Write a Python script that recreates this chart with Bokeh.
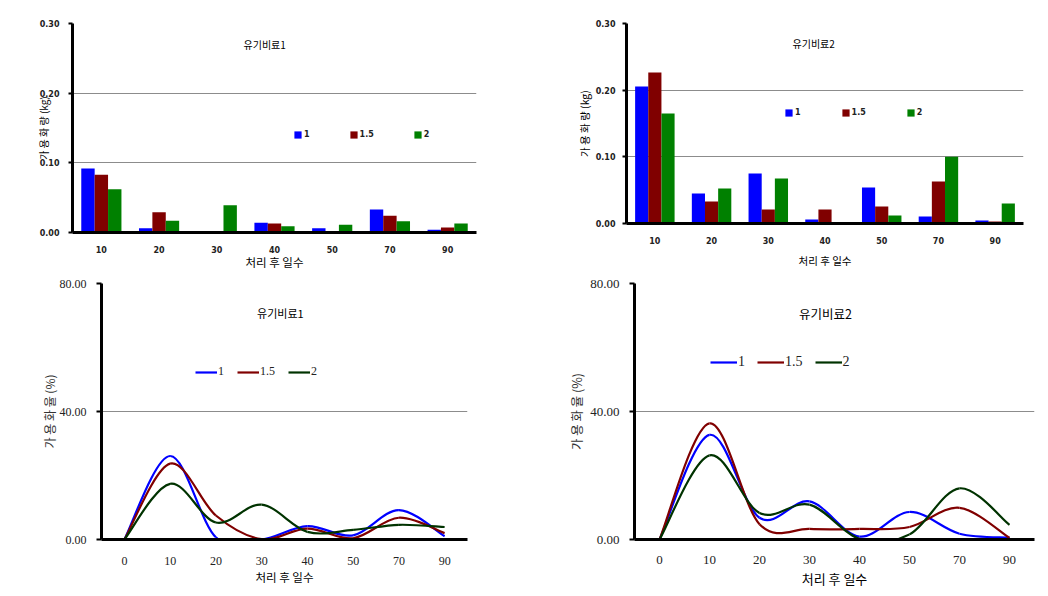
import math
from bokeh.plotting import figure
from bokeh.layouts import column, row
from bokeh.models import (ColumnDataSource, FactorRange, Range1d, FixedTicker,
                          PrintfTickFormatter, Label, Legend, LegendItem)
from bokeh.transform import dodge
from bokeh.embed import file_html
from bokeh.resources import INLINE

# ---------------- data ----------------
BAR_DAYS = ["10", "20", "30", "40", "50", "70", "90"]
LINE_DAYS = ["0", "10", "20", "30", "40", "50", "70", "90"]
SERIES = ["1", "1.5", "2"]

# 유기비료1, 가용화량 (kg)
kg1_s1 = [0.092, 0.006, 0.000, 0.014, 0.006, 0.033, 0.004]
kg1_s15 = [0.083, 0.029, 0.000, 0.013, 0.000, 0.024, 0.007]
kg1_s2 = [0.062, 0.017, 0.039, 0.009, 0.011, 0.016, 0.013]
# 유기비료2, 가용화량 (kg)
kg2_s1 = [0.2055, 0.045, 0.075, 0.006, 0.054, 0.0105, 0.0045]
kg2_s15 = [0.2265, 0.033, 0.021, 0.021, 0.0255, 0.063, 0.003]
kg2_s2 = [0.165, 0.0525, 0.0675, 0.000, 0.012, 0.100, 0.030]

# 유기비료1, 가용화율 (%)
pct1_s1 = [0, 26.1, 0.7, 0.0, 4.2, 1.3, 9.2, 1.0]
pct1_s15 = [0, 23.7, 7.5, 0.1, 3.4, 0.4, 6.8, 2.0]
pct1_s2 = [0, 17.4, 5.3, 10.9, 2.4, 3.0, 4.6, 3.9]
# 유기비료2, 가용화율 (%)
pct2_s1 = [0, 32.7, 6.8, 11.9, 0.9, 8.6, 1.8, 0.6]
pct2_s15 = [0, 36.3, 4.8, 3.3, 3.3, 3.9, 9.9, 0.5]
pct2_s2 = [0, 26.3, 8.3, 10.9, 0.2, 1.6, 16.0, 4.6]

BAR_COLORS = ["#0000FF", "#800000", "#008000"]
LINE_COLORS = ["#0000FF", "#800000", "#003300"]

KFONT = "Noto Sans CJK KR"
SANS = "DejaVu Sans"
SERIF = "Liberation Serif"


def base_fig(fw, fh, bl, br, bt, bb, x_range, y_range):
    p = figure(width=fw + bl + br, height=fh + bt + bb,
               frame_width=fw, frame_height=fh,
               min_border_left=bl, min_border_right=br,
               min_border_top=bt, min_border_bottom=bb,
               x_range=x_range, y_range=y_range,
               output_backend="svg", toolbar_location=None)
    p.outline_line_color = None
    p.background_fill_color = "white"
    p.border_fill_color = "white"
    p.xgrid.visible = False
    p.ygrid.grid_line_color = "#8c8c8c"
    p.ygrid.grid_line_width = 1
    p.xaxis.axis_line_width = 3
    p.xaxis.axis_line_color = "black"
    p.xaxis.major_tick_line_color = None
    p.xaxis.minor_tick_line_color = None
    p.yaxis.axis_line_width = 3
    p.yaxis.axis_line_color = "black"
    p.yaxis.major_tick_line_width = 2
    p.yaxis.major_tick_in = 0
    p.yaxis.minor_tick_line_color = None
    p.yaxis.formatter = PrintfTickFormatter(format="%.2f")
    for ax in (p.xaxis, p.yaxis):
        ax.axis_label_text_font = KFONT
        ax.axis_label_text_font_style = "normal"
        ax.axis_label_text_color = "black"
    return p


def bar_chart(kgs, title, cfg):
    p = base_fig(cfg["fw"], cfg["fh"], cfg["bl"], cfg["br"], cfg["bt"], cfg["bb"],
                 FactorRange(*BAR_DAYS), Range1d(0, 0.30))
    ticks = [0.0, 0.10, 0.20, 0.30]
    p.yaxis.ticker = FixedTicker(ticks=ticks)
    p.ygrid.ticker = FixedTicker(ticks=ticks[1:])
    for ax in (p.xaxis, p.yaxis):
        ax.major_label_text_font = SANS
        ax.major_label_text_font_size = "8px"
        ax.major_label_text_font_style = "bold"
        ax.major_label_text_color = "#222222"
    p.yaxis.major_tick_out = 4
    p.yaxis.major_label_standoff = cfg["ystand"]
    p.xaxis.major_label_standoff = cfg["xstand"]
    p.xaxis.axis_label = "처리 후 일수"
    p.xaxis.axis_label_text_font_size = cfg["xtitle_size"]
    p.xaxis.axis_label_standoff = cfg["xtitle_stand"]
    p.yaxis.axis_label = "가 용 화 량 (kg)"
    p.yaxis.axis_label_text_font_size = cfg["ylab_size"]
    p.yaxis.axis_label_standoff = cfg["ylab_stand"]

    src = ColumnDataSource(dict(day=BAR_DAYS, s1=kgs[0], s15=kgs[1], s2=kgs[2]))
    offs = [-0.232, 0.0, 0.232]
    items = []
    for col, off, color, name in zip(["s1", "s15", "s2"], offs, BAR_COLORS, SERIES):
        r = p.vbar(x=dodge("day", off, range=p.x_range), top=col, width=0.232,
                   source=src, fill_color=color, line_color=None)
        items.append(LegendItem(label=name, renderers=[r]))
    leg = Legend(items=items, orientation="horizontal", location=cfg["leg"],
                 glyph_width=9, glyph_height=9, label_standoff=2, spacing=cfg["spacing"],
                 padding=0, margin=0, border_line_color=None, background_fill_alpha=0,
                 label_width=0, label_height=0,
                 label_text_font=SANS, label_text_font_size="8px",
                 label_text_font_style="bold", label_text_color="#222222")
    p.add_layout(leg)
    p.add_layout(Label(x=cfg["title_xy"][0], y=cfg["title_xy"][1], text=title,
                       text_font=KFONT, text_font_size=cfg["title_size"],
                       text_align="center", text_baseline="middle", text_color="black"))
    return p


def bezier_data(vals):
    n = len(vals)
    xs = list(range(n))
    d = dict(x0=[], y0=[], x1=[], y1=[], cx0=[], cy0=[], cx1=[], cy1=[])
    for i in range(n - 1):
        pm = max(i - 1, 0)
        pp = min(i + 2, n - 1)
        d["x0"].append(xs[i]); d["y0"].append(vals[i])
        d["x1"].append(xs[i + 1]); d["y1"].append(vals[i + 1])
        d["cx0"].append(xs[i] + (xs[i + 1] - xs[pm]) / 6.0)
        d["cy0"].append(vals[i] + (vals[i + 1] - vals[pm]) / 6.0)
        d["cx1"].append(xs[i + 1] - (xs[pp] - xs[i]) / 6.0)
        d["cy1"].append(vals[i + 1] - (vals[pp] - vals[i]) / 6.0)
    return d


def line_chart(pcts, title, cfg):
    p = base_fig(cfg["fw"], cfg["fh"], cfg["bl"], cfg["br"], cfg["bt"], cfg["bb"],
                 Range1d(-0.5, len(LINE_DAYS) - 0.5), Range1d(0, 80))
    ticks = [0, 40, 80]
    p.yaxis.ticker = FixedTicker(ticks=ticks)
    p.ygrid.ticker = FixedTicker(ticks=ticks[1:])
    p.xaxis.ticker = FixedTicker(ticks=list(range(len(LINE_DAYS))))
    p.xaxis.major_label_overrides = {i: d for i, d in enumerate(LINE_DAYS)}
    for ax in (p.xaxis, p.yaxis):
        ax.major_label_text_font = SERIF
        ax.major_label_text_font_size = cfg["tick_size"]
        ax.major_label_text_color = "#222222"
    p.yaxis.major_tick_out = 5
    p.yaxis.major_label_standoff = cfg["ystand"]
    p.xaxis.major_label_standoff = cfg["xstand"]
    p.xaxis.axis_label = "처리 후 일수"
    p.xaxis.axis_label_text_font_size = cfg["xtitle_size"]
    p.xaxis.axis_label_standoff = cfg["xtitle_stand"]
    p.yaxis.axis_label = "가 용 화 율 (%)"
    p.yaxis.axis_label_text_font_size = cfg["ylab_size"]
    p.yaxis.axis_label_standoff = cfg["ylab_stand"]
    p.yaxis.axis_label_text_color = "#333333"

    items = []
    for vals, color, name in zip(pcts, LINE_COLORS, SERIES):
        src = ColumnDataSource(bezier_data(vals))
        r = p.bezier(x0="x0", y0="y0", x1="x1", y1="y1", cx0="cx0", cy0="cy0",
                     cx1="cx1", cy1="cy1", source=src, line_color=color, line_width=2.2)
        items.append(LegendItem(label=name, renderers=[r]))
    leg = Legend(items=items, orientation="horizontal", location=cfg["leg"],
                 glyph_width=cfg["gw"], glyph_height=10, label_standoff=1,
                 spacing=cfg["spacing"], padding=0, margin=0, border_line_color=None,
                 background_fill_alpha=0, label_width=0, label_height=0,
                 label_text_font=SERIF, label_text_font_size=cfg["leg_size"],
                 label_text_color="#222222")
    p.add_layout(leg)
    p.add_layout(Label(x=cfg["title_xy"][0], y=cfg["title_xy"][1], text=title,
                       text_font=KFONT, text_font_size=cfg["title_size"],
                       text_align="center", text_baseline="middle", text_color="black"))
    return p


# Row 1 shares top/bottom borders (23 / 45); row 2 shares (6 / 52).
p1 = bar_chart([kg1_s1, kg1_s15, kg1_s2], "유기비료1",
               dict(fw=404, fh=209, bl=72, br=44, bt=23, bb=45, ystand=9, xstand=7,
                    xtitle_size="11.5px", xtitle_stand=-2, leg=(221, 93), spacing=39,
                    title_xy=(3.33, 0.270), title_size="10px",
                    ylab_size="10px", ylab_stand=-14))
p2 = bar_chart([kg2_s1, kg2_s15, kg2_s2], "유기비료2",
               dict(fw=397, fh=200, bl=106, br=17, bt=23, bb=45, ystand=7, xstand=7,
                    xtitle_size="10.5px", xtitle_stand=6, leg=(158, 106), spacing=40,
                    title_xy=(3.30, 0.2696), title_size="10px",
                    ylab_size="10.5px", ylab_stand=1))
p3 = line_chart([pct1_s1, pct1_s15, pct1_s2], "유기비료1",
                dict(fw=366, fh=256, bl=101, br=53, bt=6, bb=52, ystand=10, xstand=11,
                     tick_size="12px", xtitle_size="11.5px", xtitle_stand=1,
                     leg=(94, 160), gw=22, spacing=13, leg_size="12px",
                     title_xy=(3.41, 70.9), title_size="11px",
                     ylab_size="12px", ylab_stand=-1))
p4 = line_chart([pct2_s1, pct2_s15, pct2_s2], "유기비료2",
                dict(fw=400, fh=256, bl=114, br=6, bt=6, bb=52, ystand=10, xstand=10,
                     tick_size="13px", xtitle_size="13px", xtitle_stand=2,
                     leg=(76, 169), gw=27, spacing=12, leg_size="14px",
                     title_xy=(3.32, 70.6), title_size="12.5px",
                     ylab_size="12.5px", ylab_stand=1))

layout = column(row(p1, p2), row(p3, p4))
open("out.html", "w").write(file_html(layout, INLINE))
